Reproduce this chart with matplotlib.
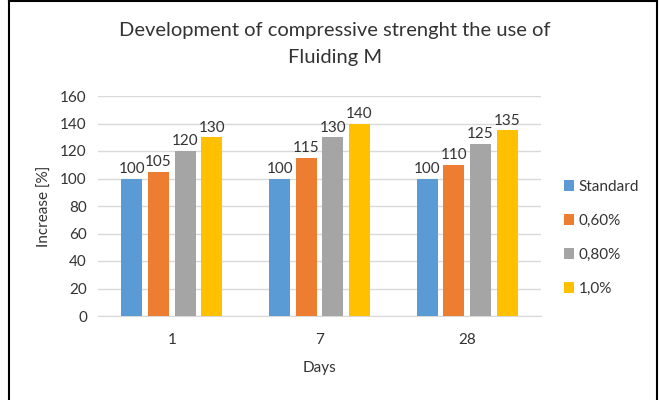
"""
Compressive strength development with Fluiding M
"""

import numpy as np
import matplotlib.pyplot as plt
from matplotlib.lines import Line2D

plt.rcParams['font.family'] = ['Lato', 'DejaVu Sans']

dias = ["1", "7", "28"]
series = ["Standard", "0,60%", "0,80%", "1,0%"]
standard = [100, 100, 100]
fluiding_060 = [105, 115, 110]
fluiding_080 = [120, 130, 125]
fluiding_100 = [130, 140, 135]
colores = ["#5B9BD5", "#ED7D31", "#A5A5A5", "#FFC000"]

valores = [standard, fluiding_060, fluiding_080, fluiding_100]

fig = plt.figure(figsize=(6.59, 4.00), dpi=100)
# plot area in pixels: x 98..541, y 96..316
ax = fig.add_axes([98 / 659, 1 - 316 / 400, (541 - 98) / 659, (316 - 96) / 400])

x = np.arange(len(dias))
paso = 0.18
ancho = 0.142
for i, (nombre, vals) in enumerate(zip(series, valores)):
    pos = x + (i - 1.5) * paso
    barras = ax.bar(pos, vals, width=ancho, color=colores[i], label=nombre, zorder=3)
    for b, v in zip(barras, vals):
        ax.text(b.get_x() + b.get_width() / 2, v + 2, str(v), ha='center', va='bottom',
                fontsize=11, color='#333333')

ax.set_xlim(-0.5, 2.5)
ax.set_ylim(0, 160)
ax.set_yticks(range(0, 161, 20))
ax.set_xticks(x)
ax.set_xticklabels(dias)
ax.grid(axis='y', color='#D9D9D9', linewidth=1, zorder=0)
for lado in ['top', 'right', 'left']:
    ax.spines[lado].set_visible(False)
ax.spines['bottom'].set_color('#D9D9D9')
ax.tick_params(axis='both', length=0, labelsize=11, colors='#333333', pad=8)
ax.tick_params(axis='x', pad=12)

ax.set_ylabel("Increase [%]", fontsize=11, color='#333333', labelpad=6)
ax.set_xlabel("Days", fontsize=11, color='#333333', labelpad=10)

fig.text(335 / 659, 1 - 44 / 400, "Development of compressive strenght the use of\nFluiding M",
         ha='center', va='center', fontsize=14.5, color='#333333', linespacing=1.7)

ax.legend(loc='center left', bbox_to_anchor=(1.02, 0.355), frameon=False, fontsize=11,
          handlelength=0.7, handleheight=0.7, handletextpad=0.3, labelspacing=1.3,
          labelcolor='#333333')

# black frame around the chart
fig.add_artist(Line2D([9 / 659, 9 / 659], [0, 1], color='black', linewidth=1.5))
fig.add_artist(Line2D([9 / 659, 657 / 659], [1 - 1 / 400, 1 - 1 / 400], color='black', linewidth=1.5))
fig.add_artist(Line2D([657 / 659, 657 / 659], [0, 1], color='black', linewidth=1.5))

plt.savefig("out.png", dpi=100)
